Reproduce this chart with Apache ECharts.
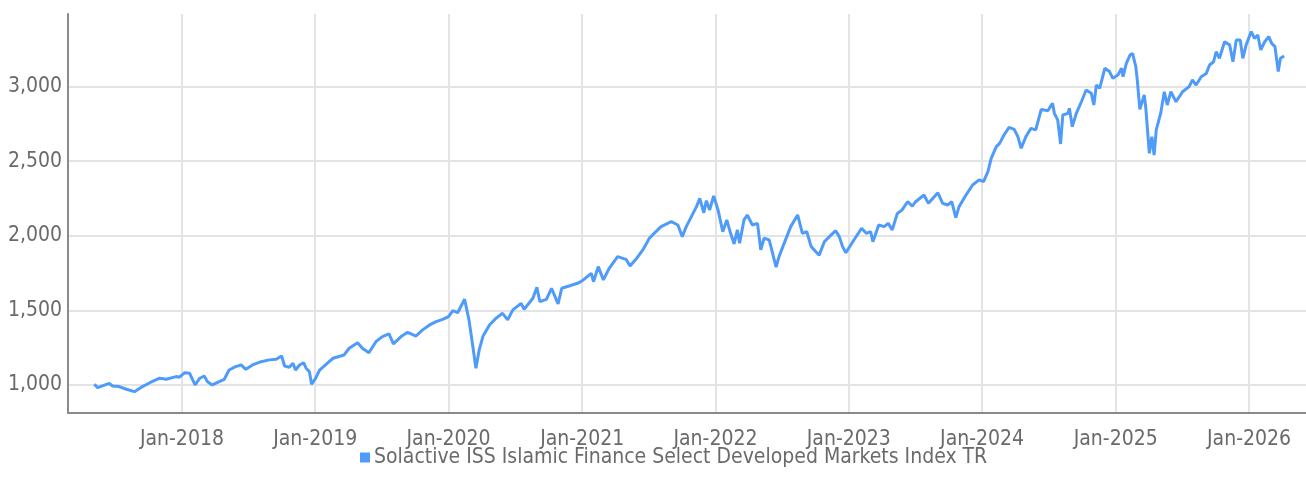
<!DOCTYPE html>
<html><head><meta charset="utf-8">
<script src="https://cdn.jsdelivr.net/npm/echarts@6/dist/echarts.min.js"></script>
<style>html,body{margin:0;padding:0;background:#fff}#c{width:1306px;height:496px}</style>
</head><body><div id="c"></div>
<script>
const seriesName = 'Solactive ISS Islamic Finance Select Developed Markets Index TR';
const yTicks = [1000, 1500, 2000, 2500, 3000];
const xTickYears = [2018, 2019, 2020, 2021, 2022, 2023, 2024, 2025, 2026];
const dates = [
'2017-05-06','2017-05-15','2017-06-16','2017-06-25','2017-07-13','2017-08-02','2017-08-24','2017-09-12','2017-10-05','2017-11-01','2017-11-19','2017-12-16','2017-12-25',
'2018-01-09','2018-01-22','2018-02-06','2018-02-19','2018-03-03','2018-03-12','2018-03-25','2018-04-13','2018-04-27','2018-05-10','2018-05-28','2018-06-12','2018-06-25','2018-07-13','2018-08-06','2018-08-28','2018-09-16','2018-10-01','2018-10-09','2018-10-22','2018-11-01','2018-11-08','2018-11-19','2018-11-30','2018-12-07','2018-12-16','2018-12-22',
'2019-01-01','2019-01-13','2019-02-08','2019-02-19','2019-03-21','2019-04-04','2019-04-27','2019-05-10','2019-05-28','2019-06-16','2019-07-04','2019-07-22','2019-08-03','2019-08-24','2019-09-11','2019-10-04','2019-10-22','2019-11-10','2019-11-28','2019-12-16',
'2020-01-01','2020-01-13','2020-01-26','2020-02-14','2020-02-26','2020-03-07','2020-03-16','2020-03-25','2020-04-04','2020-04-22','2020-05-10','2020-05-28','2020-06-11','2020-06-25','2020-07-18','2020-07-26','2020-08-19','2020-08-30','2020-09-07','2020-09-25','2020-10-09','2020-10-27','2020-11-06','2020-11-28','2020-12-23',
'2021-01-04','2021-01-26','2021-02-01','2021-02-14','2021-02-28','2021-03-16','2021-04-08','2021-05-01','2021-05-12','2021-05-28','2021-06-16','2021-07-04','2021-07-17','2021-08-05','2021-09-02','2021-09-20','2021-10-02','2021-10-13','2021-10-27','2021-11-10','2021-11-19','2021-11-30','2021-12-07','2021-12-16','2021-12-27',
'2022-01-08','2022-01-21','2022-02-01','2022-02-10','2022-02-21','2022-03-02','2022-03-08','2022-03-20','2022-03-29','2022-04-12','2022-04-26','2022-05-05','2022-05-14','2022-05-28','2022-06-16','2022-06-24','2022-07-08','2022-07-26','2022-08-14','2022-08-27','2022-09-08','2022-09-20','2022-10-03','2022-10-12','2022-10-26','2022-11-09','2022-11-26','2022-12-06','2022-12-15','2022-12-24',
'2023-01-12','2023-02-05','2023-02-18','2023-03-02','2023-03-08','2023-03-24','2023-04-08','2023-04-19','2023-04-30','2023-05-14','2023-05-27','2023-06-11','2023-06-24','2023-07-03','2023-07-26','2023-08-07','2023-09-02','2023-09-15','2023-09-29','2023-10-10','2023-10-21','2023-10-30','2023-11-18','2023-12-06','2023-12-24',
'2024-01-05','2024-01-17','2024-01-26','2024-02-09','2024-02-18','2024-03-01','2024-03-15','2024-03-29','2024-04-08','2024-04-17','2024-04-30','2024-05-14','2024-05-27','2024-06-11','2024-06-29','2024-07-12','2024-07-17','2024-07-26','2024-08-03','2024-08-09','2024-08-23','2024-08-27','2024-09-04','2024-09-15','2024-09-29','2024-10-12','2024-10-26','2024-11-02','2024-11-09','2024-11-18','2024-12-02','2024-12-15','2024-12-24',
'2025-01-07','2025-01-17','2025-01-21','2025-01-30','2025-02-09','2025-02-16','2025-02-25','2025-03-01','2025-03-08','2025-03-20','2025-03-24','2025-04-03','2025-04-10','2025-04-16','2025-04-22','2025-05-04','2025-05-14','2025-05-22','2025-06-01','2025-06-15','2025-07-03','2025-07-21','2025-07-30','2025-08-09','2025-08-23','2025-09-06','2025-09-15','2025-09-26','2025-10-03','2025-10-12','2025-10-26','2025-11-09','2025-11-18','2025-11-27','2025-12-08','2025-12-15','2025-12-24',
'2026-01-07','2026-01-16','2026-01-25','2026-02-02','2026-02-13','2026-02-24','2026-03-04','2026-03-13','2026-03-22','2026-03-28','2026-04-07'
];
const values = [
1005,982,1011,993,989,971,955,985,1015,1045,1038,1056,1052,
1082,1078,1000,1045,1060,1022,1000,1022,1038,1100,1123,1134,1105,1134,1156,1168,1172,1194,1127,1119,1145,1100,1134,1149,1112,1089,1005,
1040,1100,1156,1179,1201,1246,1283,1246,1216,1290,1324,1342,1275,1324,1353,1328,1369,1402,1424,1440,
1458,1498,1484,1574,1436,1268,1112,1235,1324,1402,1447,1480,1436,1503,1547,1507,1581,1655,1558,1574,1648,1543,1648,1665,1685,
1704,1748,1692,1793,1704,1782,1860,1842,1797,1842,1905,1983,2016,2061,2094,2072,1994,2061,2128,2195,2251,2154,2235,2173,2266,
2173,2027,2106,2027,1945,2039,1949,2106,2139,2072,2083,1905,1983,1972,1789,1860,1949,2061,2139,2016,2027,1927,1893,1870,1960,1994,2034,1994,1927,1886,
1960,2050,2016,2027,1960,2072,2061,2083,2039,2150,2173,2228,2199,2228,2273,2217,2288,2217,2206,2228,2121,2195,2273,2340,2374,
2362,2429,2519,2597,2619,2675,2726,2713,2664,2586,2664,2720,2709,2847,2838,2888,2820,2776,2615,2809,2820,2854,2731,2820,2898,2977,2955,2876,3010,2988,3122,3100,3055,
3077,3122,3066,3155,3211,3222,3133,3044,2847,2943,2865,2552,2664,2541,2709,2820,2965,2876,2965,2898,2965,2999,3044,3010,3066,3088,3144,3166,3233,3189,3300,3278,3166,3311,3311,3189,3278,
3368,3323,3345,3245,3300,3334,3289,3267,3100,3189,3204
];

const FONT = "'DejaVu Sans Condensed','Liberation Sans Narrow',sans-serif";
const chart = echarts.init(document.getElementById('c'), null, {renderer: 'canvas'});
const xTicks = xTickYears.map(y => Date.UTC(y, 0, 1));
const data = dates.map((d, i) => [Date.parse(d + 'T00:00:00Z'), values[i]]);
chart.setOption({
  animation: false,
  backgroundColor: '#fff',
  textStyle: {fontFamily: FONT},
  grid: {left: 68, right: 0, top: 14, bottom: 83, containLabel: false},
  legend: {
    show: true, left: 355, top: 442, icon: 'rect', itemWidth: 10, itemHeight: 10, itemGap: 10,
    textStyle: {fontFamily: FONT, fontSize: 21, color: '#6a6a6a', padding: [0, 0, 0, -1]},
    data: [seriesName]
  },
  xAxis: {
    type: 'value',
    min: Date.parse('2017-02-23T00:00:00Z'), max: Date.parse('2026-06-06T00:00:00Z'),
    axisLine: {show: true, lineStyle: {color: '#8a8a8a', width: 2}},
    axisTick: {show: false, customValues: xTicks},
    splitLine: {show: true, lineStyle: {color: '#e4e4e4', width: 2}},
    axisLabel: {
      customValues: xTicks, margin: 16, fontSize: 21, color: '#6a6a6a', fontFamily: FONT,
      formatter: v => 'Jan-' + new Date(v).getUTCFullYear()
    }
  },
  yAxis: {
    type: 'value', min: 812, max: 3486,
    axisLine: {show: true, lineStyle: {color: '#8a8a8a', width: 2}},
    axisTick: {show: false, customValues: yTicks},
    splitLine: {show: true, lineStyle: {color: '#e4e4e4', width: 2}},
    axisLabel: {
      customValues: yTicks, margin: 6, fontSize: 21, color: '#6a6a6a', fontFamily: FONT,
      formatter: v => v.toLocaleString('en-US')
    }
  },
  series: [{
    name: seriesName, type: 'line', data: data, showSymbol: false, symbol: 'none',
    itemStyle: {color: '#4f9bf9'},
    lineStyle: {color: '#4f9bf9', width: 3}
  }]
});
</script></body></html>
